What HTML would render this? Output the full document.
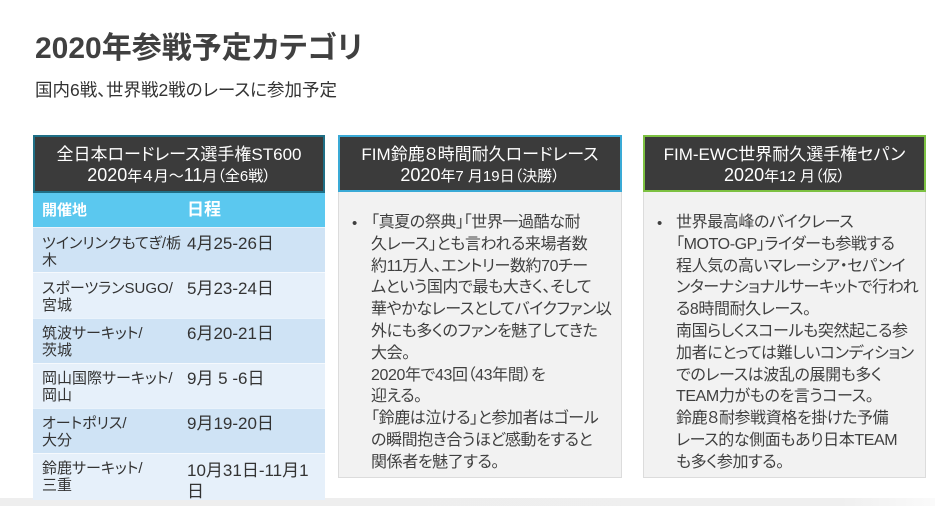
<!DOCTYPE html>
<html><head><meta charset="utf-8"><style>
*{margin:0;padding:0;box-sizing:border-box}
html,body{width:935px;height:506px;overflow:hidden;background:#fff}
body{position:relative;font-family:"Liberation Sans","Noto Sans CJK JP",sans-serif;font-feature-settings:"palt";color:#404040}
.abs{position:absolute}
.title{left:35px;top:29px;font-size:30px;font-weight:bold;line-height:40px;color:#404040;white-space:nowrap}
.sub{left:35px;top:79px;font-size:17.5px;line-height:22px;color:#333;white-space:nowrap}
.hdr{background:#3b3b3b;color:#fff;text-align:center;border:2px solid;font-size:17px;line-height:21px;padding-top:7px;white-space:nowrap}
.hdr .s{font-size:15px}
.hdr .big{font-size:18px}
.band{left:0;top:498px;width:935px;height:8px;background:linear-gradient(to right,#eeeeee 0%,#efefef 90%,#fafafa 100%)}
.row{position:absolute;left:0;width:292px;font-size:15px;line-height:17px;color:#333;white-space:nowrap}
.row .c1{position:absolute;left:9px}
.row .c2{position:absolute;left:154px;font-size:17px;line-height:17px;color:#333}
.body{background:#f2f2f2;border:1px solid #dcdcdc;font-size:16px;letter-spacing:-0.4px;line-height:21.8px;color:#404040;white-space:nowrap}
.body .b{position:absolute;font-size:15px}
.body .t{position:absolute}
</style></head><body>
<div class="abs title">2020年参戦予定カテゴリ</div>
<div class="abs sub">国内6戦、世界戦2戦のレースに参加予定</div>

<div class="abs band"></div>

<!-- Box 1 -->
<div class="abs hdr" style="left:33px;top:135px;width:292px;height:58px;border-color:#1f6f86;">全日本ロードレース選手権ST600<br><span class="big">2020</span><span class="s">年４月～</span><span class="big">11</span><span class="s">月（全6戦）</span></div>
<div class="abs" style="left:33px;top:193px;width:292px;height:307px;">
  <div class="row" style="top:0;height:34px;background:#5bc8ef;color:#fff;font-weight:bold;">
    <span class="c1" style="top:9px;font-size:15px;color:#fff">開催地</span>
    <span class="c2" style="top:8px;font-size:17px;color:#fff">日程</span>
  </div>
  <div class="row" style="top:34px;height:45px;background:#cfe3f5;border-top:1px solid #eaf3fb;">
    <span class="c1" style="top:7px">ツインリンクもてぎ/栃<br>木</span>
    <span class="c2" style="top:7px">4月25-26日</span>
  </div>
  <div class="row" style="top:79px;height:46px;background:#e6f0fa;border-top:1px solid #f5f9fd;">
    <span class="c1" style="top:7px">スポーツランSUGO/<br>宮城</span>
    <span class="c2" style="top:7px">5月23-24日</span>
  </div>
  <div class="row" style="top:125px;height:45px;background:#cfe3f5;border-top:1px solid #eaf3fb;">
    <span class="c1" style="top:6px">筑波サーキット/<br>茨城</span>
    <span class="c2" style="top:6px">6月20-21日</span>
  </div>
  <div class="row" style="top:170px;height:45px;background:#e6f0fa;border-top:1px solid #f5f9fd;">
    <span class="c1" style="top:6px">岡山国際サーキット/<br>岡山</span>
    <span class="c2" style="top:6px">9月 5 -6日</span>
  </div>
  <div class="row" style="top:215px;height:45px;background:#cfe3f5;border-top:1px solid #eaf3fb;">
    <span class="c1" style="top:6px">オートポリス/<br>大分</span>
    <span class="c2" style="top:6px">9月19-20日</span>
  </div>
  <div class="row" style="top:260px;height:47px;background:#e6f0fa;border-top:1px solid #f5f9fd;">
    <span class="c1" style="top:6px">鈴鹿サーキット/<br>三重</span>
    <span class="c2" style="top:6px;line-height:21px">10月31日-11月1<br>日</span>
  </div>
</div>

<!-- Box 2 -->
<div class="abs body" style="left:338px;top:191px;width:284px;height:287px;">
  <span class="b" style="left:13px;top:21px">•</span>
  <div class="t" style="left:32px;top:20px">「真夏の祭典」「世界一過酷な耐<br>久レース」とも言われる来場者数<br>約11万人、エントリー数約70チー<br>ムという国内で最も大きく、そして<br>華やかなレースとしてバイクファン以<br>外にも多くのファンを魅了してきた<br>大会。<br>2020年で43回（43年間）を<br>迎える。<br>「鈴鹿は泣ける」と参加者はゴール<br>の瞬間抱き合うほど感動をすると<br>関係者を魅了する。</div>
</div>
<div class="abs hdr" style="left:338px;top:135px;width:284px;height:57px;border-color:#3aaad6;">FIM鈴鹿８時間耐久ロードレース<br><span class="big">2020</span><span class="s">年7 月19日（決勝）</span></div>

<!-- Box 3 -->
<div class="abs body" style="left:643px;top:191px;width:283px;height:287px;">
  <span class="b" style="left:13px;top:21px">•</span>
  <div class="t" style="left:32px;top:20px">世界最高峰のバイクレース<br>「MOTO-GP」ライダーも参戦する<br>程人気の高いマレーシア・セパンイ<br>ンターナショナルサーキットで行われ<br>る8時間耐久レース。<br>南国らしくスコールも突然起こる参<br>加者にとっては難しいコンディション<br>でのレースは波乱の展開も多く<br>TEAM力がものを言うコース。<br>鈴鹿８耐参戦資格を掛けた予備<br>レース的な側面もあり日本TEAM<br>も多く参加する。</div>
</div>
<div class="abs hdr" style="left:643px;top:135px;width:283px;height:57px;border-color:#7dc142;">FIM-EWC世界耐久選手権セパン<br><span class="big">2020</span><span class="s">年12 月（仮）</span></div>
</body></html>
